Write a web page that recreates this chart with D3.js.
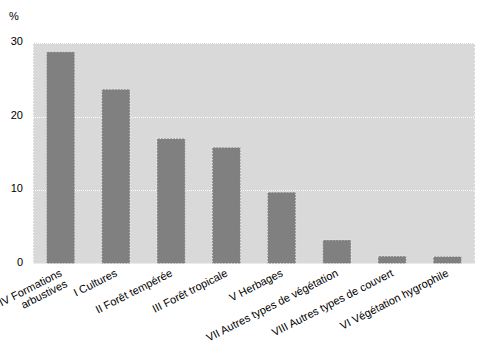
<!DOCTYPE html>
<html><head><meta charset="utf-8">
<script src="https://cdn.jsdelivr.net/npm/d3@7"></script>
<style>body{margin:0;background:#fff}svg{display:block}text{font-family:"Liberation Sans",Arial,sans-serif;fill:#000}</style>
</head><body>
<svg id="c" width="490" height="357"></svg>
<script>
const categories = [["IV Formations","arbustives"],["I Cultures"],["II Forêt tempérée"],["III Forêt tropicale"],["V Herbages"],["VII Autres types de végétation"],["VIII Autres types de couvert"],["VI Végétation hygrophile"]];
const values = [28.8, 23.7, 17.0, 15.8, 9.7, 3.2, 1.0, 0.95];
const yTicks = [0, 10, 20, 30];
const yUnit = "%";

const svg = d3.select("#c");
const m = {l:33, r:475, t:43, b:263.5};
const x = d3.scaleBand().domain(d3.range(values.length)).range([m.l, m.r]).paddingInner(0.49).paddingOuter(0.245);
const y = d3.scaleLinear().domain([0,30]).range([m.b, m.t]);

svg.append("rect").attr("x", m.l).attr("y", m.t).attr("width", m.r-m.l).attr("height", m.b-m.t).attr("fill", "#d9d9d9");

svg.append("g").selectAll("line").data(yTicks.filter(d=>d>0)).join("line")
  .attr("x1", m.l).attr("x2", m.r).attr("y1", d=>Math.round(y(d))+0.5).attr("y2", d=>Math.round(y(d))+0.5)
  .attr("stroke", "#fff").attr("stroke-width", 1).attr("stroke-dasharray", "1,1");
svg.append("line").attr("x1", m.l+0.5).attr("x2", m.l+0.5).attr("y1", m.t).attr("y2", m.b)
  .attr("stroke", "#fff").attr("stroke-dasharray", "1,2");
svg.append("line").attr("x1", m.r-0.5).attr("x2", m.r-0.5).attr("y1", m.t).attr("y2", m.b)
  .attr("stroke", "#fff").attr("stroke-dasharray", "1,3");

svg.append("g").selectAll("rect").data(values).join("rect")
  .attr("x", (d,i)=>x(i)).attr("width", x.bandwidth())
  .attr("y", d=>y(d)).attr("height", d=>y(0)-y(d))
  .attr("fill", "#808080").attr("stroke", "#fff").attr("stroke-width", 0.8).attr("stroke-dasharray", "1,2");

const ya = svg.append("g").attr("transform", `translate(${m.l},-2)`)
  .call(d3.axisLeft(y).tickValues(yTicks).tickSize(0).tickPadding(10).tickFormat(d3.format("d")));
ya.select(".domain").remove();
ya.selectAll("text").attr("font-size", 11).attr("font-family", '"Liberation Sans",Arial,sans-serif').attr("fill", "#000");

svg.append("text").attr("x", 9).attr("y", 20).attr("font-size", 11).text(yUnit);

const lab = svg.append("g").selectAll("text").data(categories).join("text")
  .attr("text-anchor", "end").attr("font-size", 11)
  .attr("transform", (d,i)=>`translate(${x(i)+x.bandwidth()/2+2},${m.b+12}) rotate(-27)`);
lab.selectAll("tspan").data(d=>d).join("tspan")
  .attr("x", 0).attr("dy", (d,j)=>j===0?0:12).text(d=>d);
</script>
</body></html>
